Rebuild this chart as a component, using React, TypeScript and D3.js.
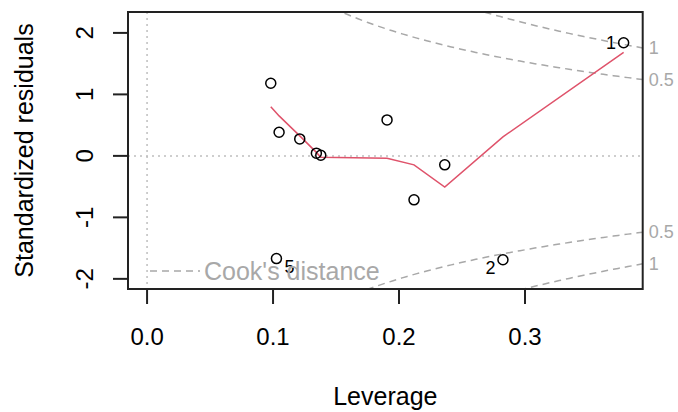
import { useRef, useEffect } from "react";
import * as d3 from "d3";

// observations (leverage vs standardized residuals)
const obsIds = [1, 2, 3, 4, 5, 6, 7, 8, 9, 10, 11];
const leverage = [0.3783, 0.2825, 0.0982, 0.1048, 0.1027, 0.1212, 0.1344, 0.1379, 0.1905, 0.2119, 0.2363];
const stdResid = [1.84, -1.69, 1.181, 0.385, -1.67, 0.276, 0.044, 0.011, 0.585, -0.715, -0.146];
const labelledIds = [1, 2, 5];

// red smoother
const smoothX = [0.0982, 0.1027, 0.1048, 0.1212, 0.1344, 0.1379, 0.1905, 0.2119, 0.2363, 0.2825, 0.3783];
const smoothY = [0.8, 0.698, 0.65, 0.325, 0.057, -0.021, -0.037, -0.146, -0.508, 0.309, 1.685];

// Cook's distance contours
const cookLevels = [0.5, 1];
const nParams = 2;

const xTicks = [0, 0.1, 0.2, 0.3];
const yTicks = [-2, -1, 0, 1, 2];

const W = 678;
const H = 412;
const M = { left: 128, top: 12, right: 35.3, bottom: 123 };
const FONT = "'Liberation Sans', Arial, sans-serif";
const GRAY = "#a8a8a8";

export default function App() {
  const svgRef = useRef<SVGSVGElement>(null);

  useEffect(() => {
    const svg = d3.select(svgRef.current);
    svg.selectAll("*").remove();

    const x0 = M.left;
    const x1 = W - M.right;
    const y0 = M.top;
    const y1 = H - M.bottom;

    const xMax = d3.max(leverage) as number;
    const x = d3.scaleLinear().domain([-0.04 * xMax, 1.04 * xMax]).range([x0, x1]);
    const y = d3.scaleLinear().domain([-2.165, 2.34]).range([y1, y0]);

    const defs = svg.append("defs");
    defs.append("clipPath").attr("id", "plotClip")
      .append("rect").attr("x", x0).attr("y", y0).attr("width", x1 - x0).attr("height", y1 - y0);

    const plot = svg.append("g").attr("clip-path", "url(#plotClip)");

    // dotted reference lines at 0
    plot.append("line")
      .attr("x1", x0).attr("x2", x1).attr("y1", y(0)).attr("y2", y(0))
      .attr("stroke", "#bebebe").attr("stroke-width", 1.5).attr("stroke-dasharray", "2 4");
    plot.append("line")
      .attr("x1", x(0)).attr("x2", x(0)).attr("y1", y0).attr("y2", y1)
      .attr("stroke", "#bebebe").attr("stroke-width", 1.5).attr("stroke-dasharray", "2 4");

    // Cook's distance curves
    const hh = d3.range(101).map((i) => xMax / 100 + (i / 100) * (x.domain()[1] - xMax / 100));
    const line = d3.line<[number, number]>().x((d) => x(d[0])).y((d) => y(d[1]));
    cookLevels.forEach((lvl) => {
      [1, -1].forEach((sgn) => {
        const pts: [number, number][] = hh.map((h) => [h, sgn * Math.sqrt((lvl * nParams * (1 - h)) / h)]);
        plot.append("path")
          .attr("d", line(pts))
          .attr("fill", "none")
          .attr("stroke", GRAY)
          .attr("stroke-width", 1.5)
          .attr("stroke-dasharray", "7 5");
      });
    });

    // smoother
    plot.append("path")
      .attr("d", line(smoothX.map((v, i) => [v, smoothY[i]] as [number, number])))
      .attr("fill", "none")
      .attr("stroke", "#df536b")
      .attr("stroke-width", 1.5);

    // points
    svg.append("g")
      .selectAll("circle")
      .data(obsIds)
      .join("circle")
      .attr("cx", (_, i) => x(leverage[i]))
      .attr("cy", (_, i) => y(stdResid[i]))
      .attr("r", 5)
      .attr("fill", "none")
      .attr("stroke", "#000")
      .attr("stroke-width", 1.5);

    // point labels
    const midX = (d3.min(leverage)! + xMax) / 2;
    labelledIds.forEach((id) => {
      const i = obsIds.indexOf(id);
      const right = leverage[i] < midX;
      const px = x(leverage[i]);
      const py = y(stdResid[i]) + (stdResid[i] < 0 ? 8.5 : 0.5);
      svg.append("text")
        .attr("x", right ? px + 8 : px - 7.5)
        .attr("y", py)
        .attr("dominant-baseline", "central")
        .attr("text-anchor", right ? "start" : "end")
        .attr("font-family", FONT)
        .attr("font-size", 18)
        .attr("fill", "#000")
        .text(String(id));
    });

    // box
    svg.append("rect")
      .attr("x", x0).attr("y", y0).attr("width", x1 - x0).attr("height", y1 - y0)
      .attr("fill", "none").attr("stroke", "#222").attr("stroke-width", 2);

    // x axis
    const xa = svg.append("g");
    xTicks.forEach((t) => {
      xa.append("line").attr("x1", x(t)).attr("x2", x(t)).attr("y1", y1).attr("y2", y1 + 15)
        .attr("stroke", "#222").attr("stroke-width", 2);
      xa.append("text").attr("x", x(t)).attr("y", y1 + 56)
        .attr("text-anchor", "middle").attr("font-family", FONT).attr("font-size", 24)
        .attr("fill", "#000").text(d3.format(".1f")(t));
    });

    // y axis
    const ya = svg.append("g");
    yTicks.forEach((t) => {
      ya.append("line").attr("x1", x0 - 15).attr("x2", x0).attr("y1", y(t)).attr("y2", y(t))
        .attr("stroke", "#222").attr("stroke-width", 2);
      ya.append("text")
        .attr("transform", `translate(${x0 - 35},${y(t)}) rotate(-90)`)
        .attr("text-anchor", "middle").attr("font-family", FONT).attr("font-size", 24)
        .attr("fill", "#000").text(String(t));
    });

    // axis titles
    svg.append("text").attr("x", (x0 + x1) / 2).attr("y", 405)
      .attr("text-anchor", "middle").attr("font-family", FONT).attr("font-size", 25)
      .attr("fill", "#000").text("Leverage");
    svg.append("text")
      .attr("transform", `translate(33,${(y0 + y1) / 2}) rotate(-90)`)
      .attr("text-anchor", "middle").attr("font-family", FONT).attr("font-size", 25)
      .attr("fill", "#000").text("Standardized residuals");

    // contour labels in right margin
    const xr = x.domain()[1];
    cookLevels.forEach((lvl) => {
      [1, -1].forEach((sgn) => {
        svg.append("text")
          .attr("x", x1 + 6)
          .attr("y", y(sgn * Math.sqrt((lvl * nParams * (1 - xr)) / xr)))
          .attr("dominant-baseline", "central")
          .attr("font-family", FONT).attr("font-size", 18)
          .attr("fill", GRAY).text(String(lvl));
      });
    });

    // legend (bottom left)
    svg.append("line")
      .attr("x1", x0 + 22).attr("x2", x0 + 72).attr("y1", y1 - 18).attr("y2", y1 - 18)
      .attr("stroke", GRAY).attr("stroke-width", 1.5).attr("stroke-dasharray", "7 5");
    svg.append("text")
      .attr("x", x0 + 76).attr("y", y1 - 9)
      .attr("font-family", FONT).attr("font-size", 25)
      .attr("fill", GRAY).text("Cook's distance");
  }, []);

  return (
    <svg
      ref={svgRef}
      width={W}
      height={H}
      style={{ position: "absolute", left: 0, top: 0, background: "#fff" }}
    />
  );
}
